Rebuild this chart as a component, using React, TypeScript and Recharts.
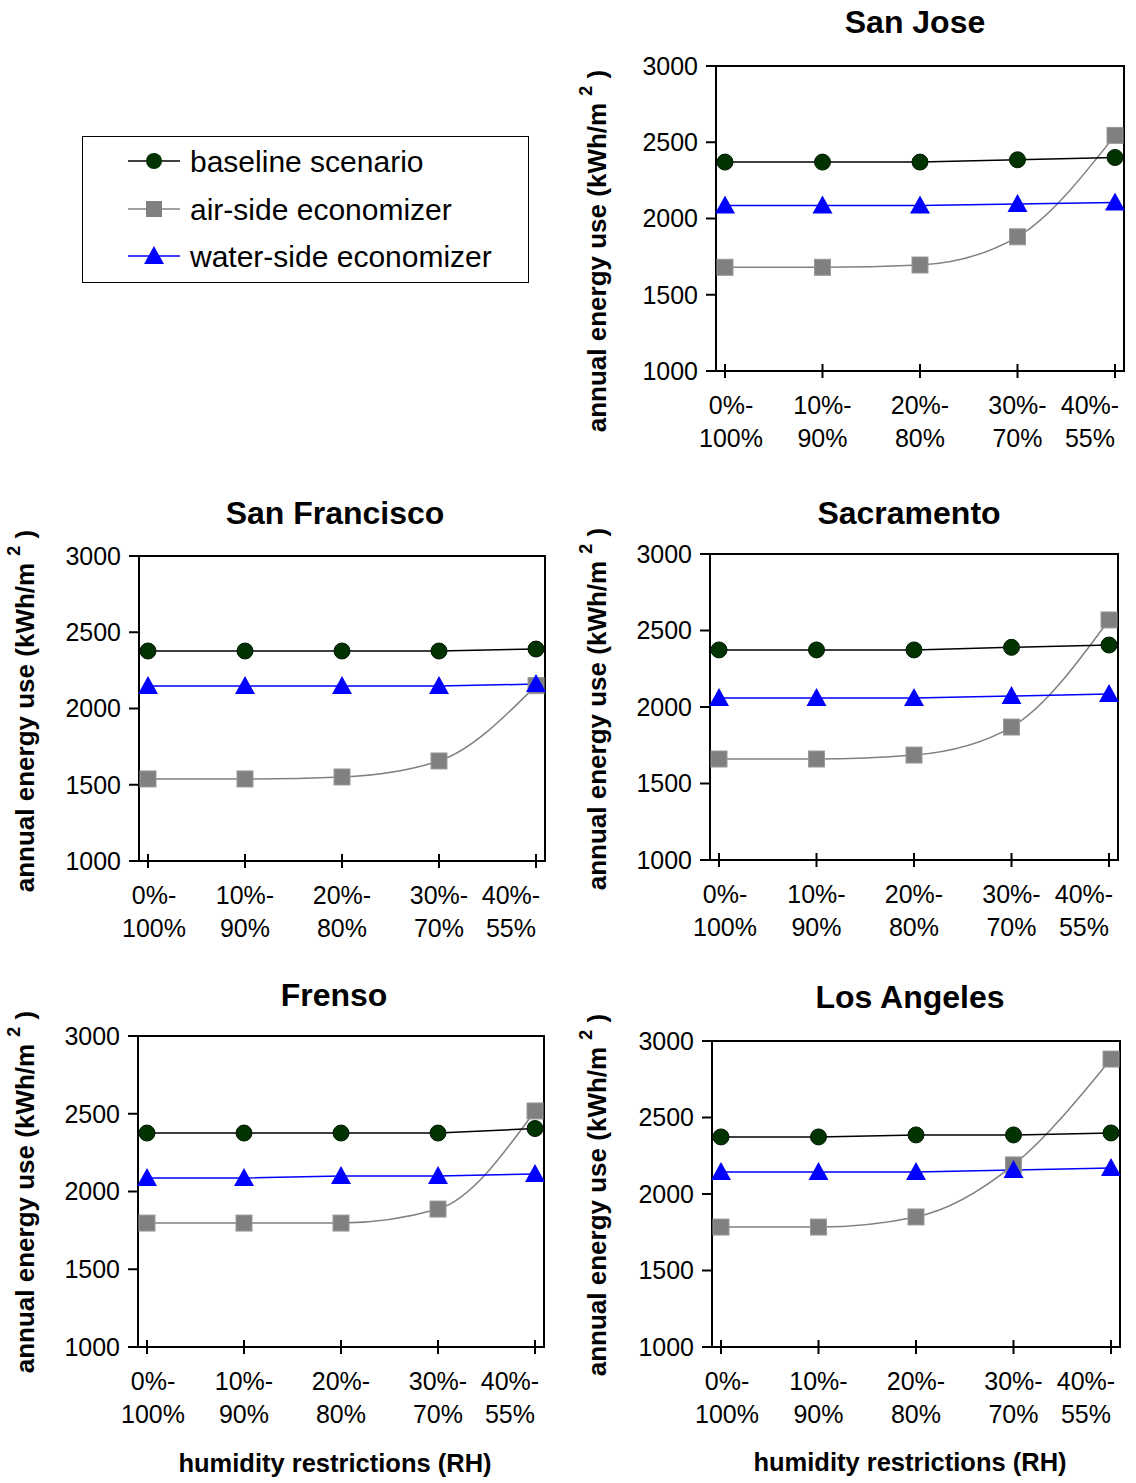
import React from 'react';
import { LineChart, Line, XAxis, YAxis } from 'recharts';

// humidity restriction categories (two-line tick labels)
const rhLow = ['0%-', '10%-', '20%-', '30%-', '40%-'];
const rhHigh = ['100%', '90%', '80%', '70%', '55%'];
const yTicks = [1000, 1500, 2000, 2500, 3000];

const seriesNames = ['baseline scenario', 'air-side economizer', 'water-side economizer'];

// annual energy use (kWh/m2)
const sanJoseBaseline = [2370, 2370, 2370, 2385, 2400];
const sanJoseAir = [1680, 1680, 1695, 1880, 2545];
const sanJoseWater = [2085, 2085, 2085, 2095, 2105];

const sanFranciscoBaseline = [2377, 2377, 2377, 2377, 2390];
const sanFranciscoAir = [1538, 1538, 1551, 1656, 2150];
const sanFranciscoWater = [2148, 2148, 2148, 2148, 2160];

const sacramentoBaseline = [2373, 2373, 2373, 2390, 2405];
const sacramentoAir = [1660, 1660, 1686, 1869, 2569];
const sacramentoWater = [2059, 2059, 2059, 2072, 2085];

const frensoBaseline = [2376, 2376, 2376, 2376, 2405];
const frensoAir = [1797, 1797, 1797, 1887, 2518];
const frensoWater = [2087, 2087, 2100, 2100, 2113];

const losAngelesBaseline = [2373, 2373, 2386, 2386, 2399];
const losAngelesAir = [1784, 1784, 1850, 2190, 2882];
const losAngelesWater = [2144, 2144, 2144, 2157, 2170];

type Row = { rh: string; baseline: number; air: number; water: number };

const buildRows = (baseline: number[], air: number[], water: number[]): Row[] =>
  rhLow.map((lo, i) => ({ rh: lo + rhHigh[i], baseline: baseline[i], air: air[i], water: water[i] }));

const FONT = '"Liberation Sans", Arial, sans-serif';
const tickFont = { fontFamily: FONT, fontSize: 25 };
const TOP = 45;

const CircleDot = (p: any) =>
  p.cx == null ? null : <circle key={p.index} cx={p.cx} cy={p.cy} r={8} fill="#003300" stroke="#001a00" strokeWidth={1} />;
const SquareDot = (p: any) =>
  p.cx == null ? null : <rect key={p.index} x={p.cx - 8} y={p.cy - 8} width={16} height={16} fill="#808080" stroke="#999" strokeWidth={1} />;
const TriDot = (p: any) =>
  p.cx == null ? null : (
    <polygon key={p.index} points={`${p.cx},${p.cy - 10} ${p.cx + 10},${p.cy + 8} ${p.cx - 10},${p.cy + 8}`} fill="#0000ff" />
  );

const XTick = (props: any) => {
  const { x, y, index } = props;
  const shift = index === 0 ? 6 : index === rhLow.length - 1 ? -25 : 0;
  return (
    <g>
      <line x1={x} x2={x} y1={y - 7} y2={y + 7} stroke="#000" strokeWidth={2} />
      <text textAnchor="middle" style={tickFont} fill="#000">
        <tspan x={x + shift} y={y + 43}>{rhLow[index]}</tspan>
        <tspan x={x + shift} y={y + 76}>{rhHigh[index]}</tspan>
      </text>
    </g>
  );
};

const YLabel = ({ lx, ly }: any) => (
  <text
    x={lx}
    y={ly}
    transform={`rotate(-90 ${lx} ${ly})`}
    textAnchor="middle"
    dominantBaseline="central"
    style={{ fontFamily: FONT, fontSize: 26, fontWeight: 'bold' }}
    fill="#000"
  >
    annual energy use (kWh/m{' '}
    <tspan fontSize={18} dy={-11}>2</tspan>
    <tspan dy={11}> )</tspan>
  </text>
);

const XLabel = ({ lx, ly }: any) => (
  <text
    x={lx}
    y={ly}
    textAnchor="middle"
    dominantBaseline="central"
    style={{ fontFamily: FONT, fontSize: 25.5, fontWeight: 'bold' }}
    fill="#000"
  >
    humidity restrictions (RH)
  </text>
);

type Plot = { x: number; y: number; w: number; h: number };

const CityChart = ({
  title,
  rows,
  plot,
  titleAt,
  yLabelAt,
  xLabelAt,
}: {
  title: string;
  rows: Row[];
  plot: Plot;
  titleAt: [number, number];
  yLabelAt: [number, number];
  xLabelAt?: [number, number];
}) => {
  const left = plot.x - 140;
  const top = plot.y - TOP;
  const width = plot.w + 140 + 15;
  const height = plot.h + TOP + 135;
  return (
    <>
      <div
        style={{
          position: 'absolute',
          left: titleAt[0],
          top: titleAt[1],
          transform: 'translate(-50%, -50%)',
          fontFamily: FONT,
          fontWeight: 'bold',
          fontSize: 32,
          whiteSpace: 'nowrap',
        }}
      >
        {title}
      </div>
      <div
        style={{
          position: 'absolute',
          left: plot.x - 1,
          top: plot.y - 1,
          width: plot.w + 2,
          height: plot.h + 2,
          border: '2px solid #000',
          boxSizing: 'border-box',
        }}
      />
      <div style={{ position: 'absolute', left, top }}>
        <LineChart width={width} height={height} data={rows} margin={{ top: TOP, right: 15, left: 0, bottom: 0 }}>
          <XAxis
            dataKey="rh"
            interval={0}
            padding={{ left: 9, right: 9 }}
            axisLine={{ stroke: '#000', strokeWidth: 2 }}
            tickLine={false}
            tickSize={0}
            tickMargin={0}
            height={135}
            tick={<XTick />}
            label={xLabelAt ? <XLabel lx={xLabelAt[0] - left} ly={xLabelAt[1] - top} /> : undefined}
          />
          <YAxis
            domain={[1000, 3000]}
            ticks={yTicks}
            allowDataOverflow
            width={140}
            axisLine={{ stroke: '#000', strokeWidth: 2 }}
            tickLine={{ stroke: '#000', strokeWidth: 2 }}
            tickSize={10}
            tickMargin={8}
            tick={{ ...tickFont, fill: '#000' }}
            label={<YLabel lx={yLabelAt[0] - left} ly={yLabelAt[1] - top} />}
          />
          <Line
            name={seriesNames[1]}
            dataKey="air"
            type="monotone"
            stroke="#808080"
            strokeWidth={1.5}
            dot={SquareDot}
            isAnimationActive={false}
          />
          <Line
            name={seriesNames[0]}
            dataKey="baseline"
            type="linear"
            stroke="#000"
            strokeWidth={1.5}
            dot={CircleDot}
            isAnimationActive={false}
          />
          <Line
            name={seriesNames[2]}
            dataKey="water"
            type="linear"
            stroke="#0000ff"
            strokeWidth={1.5}
            dot={TriDot}
            isAnimationActive={false}
          />
        </LineChart>
      </div>
    </>
  );
};

const LegendBox = () => {
  const rowsY = [25, 73, 120];
  const colors = ['#000', '#808080', '#0000ff'];
  const markers = [
    (cx: number, cy: number) => <circle cx={cx} cy={cy} r={8} fill="#003300" />,
    (cx: number, cy: number) => <rect x={cx - 8} y={cy - 8} width={16} height={16} fill="#808080" />,
    (cx: number, cy: number) => (
      <polygon points={`${cx},${cy - 10} ${cx + 10},${cy + 8} ${cx - 10},${cy + 8}`} fill="#0000ff" />
    ),
  ];
  return (
    <svg style={{ position: 'absolute', left: 82, top: 136 }} width={447} height={147}>
      <rect x={0.5} y={0.5} width={446} height={146} fill="#fff" stroke="#000" strokeWidth={1} />
      {seriesNames.map((name, i) => (
        <g key={name}>
          <line x1={46} x2={98} y1={rowsY[i]} y2={rowsY[i]} stroke={colors[i]} strokeWidth={1.5} />
          {markers[i](72, rowsY[i])}
          <text x={108} y={rowsY[i]} dominantBaseline="central" style={{ fontFamily: FONT, fontSize: 30 }} fill="#000">
            {name}
          </text>
        </g>
      ))}
    </svg>
  );
};

export default function App() {
  return (
    <div style={{ position: 'absolute', left: 0, top: 0, width: 1136, height: 1483, background: '#fff' }}>
      <LegendBox />
      <CityChart
        title="San Jose"
        rows={buildRows(sanJoseBaseline, sanJoseAir, sanJoseWater)}
        plot={{ x: 716, y: 66, w: 408, h: 305 }}
        titleAt={[915, 22]}
        yLabelAt={[597, 251]}
      />
      <CityChart
        title="San Francisco"
        rows={buildRows(sanFranciscoBaseline, sanFranciscoAir, sanFranciscoWater)}
        plot={{ x: 139, y: 556, w: 406, h: 305 }}
        titleAt={[335, 513]}
        yLabelAt={[25, 711]}
      />
      <CityChart
        title="Sacramento"
        rows={buildRows(sacramentoBaseline, sacramentoAir, sacramentoWater)}
        plot={{ x: 710, y: 554, w: 408, h: 306 }}
        titleAt={[909, 513]}
        yLabelAt={[597, 709]}
      />
      <CityChart
        title="Frenso"
        rows={buildRows(frensoBaseline, frensoAir, frensoWater)}
        plot={{ x: 138, y: 1036, w: 406, h: 311 }}
        titleAt={[334, 995]}
        yLabelAt={[25, 1192]}
        xLabelAt={[335, 1463]}
      />
      <CityChart
        title="Los Angeles"
        rows={buildRows(losAngelesBaseline, losAngelesAir, losAngelesWater)}
        plot={{ x: 712, y: 1041, w: 408, h: 306 }}
        titleAt={[910, 997]}
        yLabelAt={[597, 1195]}
        xLabelAt={[910, 1462]}
      />
    </div>
  );
}
